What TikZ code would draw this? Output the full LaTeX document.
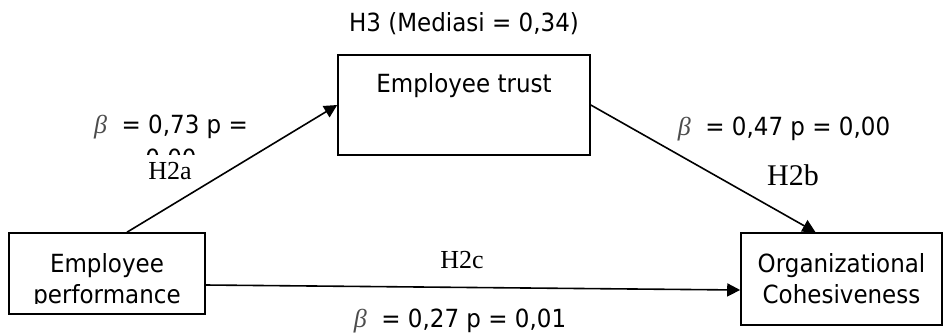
\documentclass[tikz,border=0pt]{standalone}
\usepackage{fontspec}
\setmainfont{DejaVu Sans}[FakeStretch=0.92]
\newfontfamily\timesfont{Liberation Serif}
\usetikzlibrary{positioning,arrows.meta}

\newcommand{\betasym}{{\timesfont\itshape\color{black!70}\fontsize{26}{31}\selectfont β}}

\begin{document}
\begin{tikzpicture}[
  x=1pt, y=-1pt,
  box/.style={rectangle, draw=black, line width=1.6pt, inner sep=0pt},
  txt/.style={font=\fontsize{25}{31}\selectfont, align=center, inner sep=0pt},
  hyp/.style={font=\timesfont\fontsize{26}{30}\selectfont, inner sep=0pt},
  arrow/.style={-{Triangle[length=13pt,width=13pt]}, line width=1.6pt},
]
\useasboundingbox (0,0) rectangle (944,333);

% ---- constructs ----
\node[box, txt, minimum width=252pt, minimum height=100pt, text depth=45pt] (trust) at (464,105) {Employee trust};
\node[box, txt, minimum width=201pt, minimum height=92pt] (org) at (841.5,279) {Organizational\\Cohesiveness};
\node[box, minimum width=196pt, minimum height=81pt] (perf) at (107,273.5) {};
\begin{scope}
  \clip (perf.north west) rectangle ([yshift=11pt]perf.south east);
  \node[txt] (perftext) at ([yshift=-8pt]perf.center) {Employee\\performance};
\end{scope}

% ---- paths ----
\draw[arrow] ([xshift=20pt]perf.north) -- (trust.west);
\draw[arrow] (trust.east) -- ([xshift=-26pt]org.north);
\draw[arrow] ([yshift=-11.5pt]perf.east) -- ([yshift=-11pt]org.west);

% ---- coefficients and hypotheses ----
\node[txt] (mediasi) [above=19pt of trust] {H3 (Mediasi = 0,34)};

\begin{scope}
  \clip (60,100) rectangle (290,154);
  \node[txt, anchor=north] (coefa) at (171,115) {\betasym\ \ = 0,73 p =\\[3pt]0,00};
\end{scope}
\node[hyp, anchor=base] (h2a) at (170,179) {H2a};

\node[txt, anchor=base] (coefb) at (784,135) {\betasym\ \ = 0,47 p = 0,00};
\node[hyp, anchor=base, font=\timesfont\fontsize{30}{34}\selectfont] (h2b) at (793,185) {H2b};

\node[hyp, anchor=base] (h2c) at (462,268) {H2c};
\node[txt, anchor=base] (coefc) at (460,327) {\betasym\ \ = 0,27 p = 0,01};

\end{tikzpicture}
\end{document}
